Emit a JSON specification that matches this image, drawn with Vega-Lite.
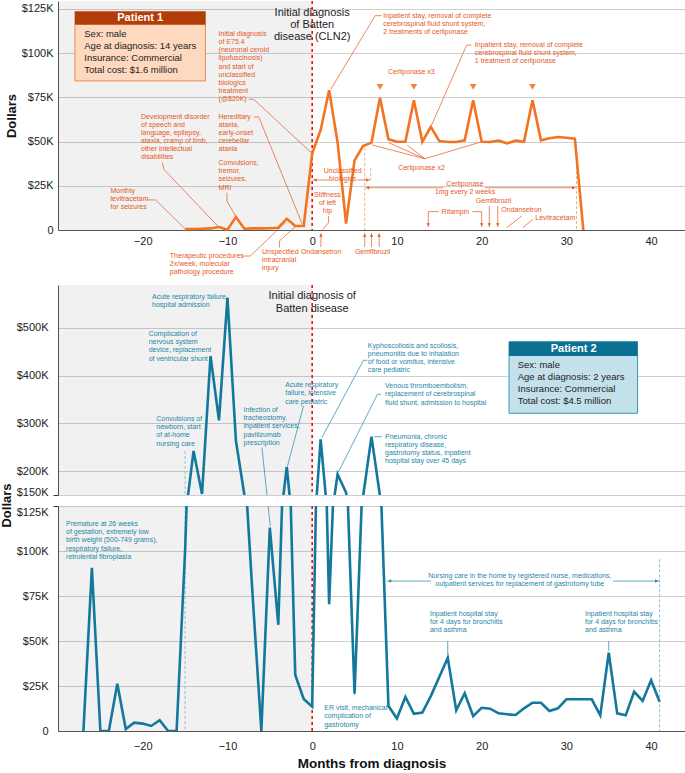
{
"$schema": "https://vega.github.io/schema/vega-lite/v6.json",
"padding": {"left": 0, "top": 0, "right": 0, "bottom": 0},
"background": "white",
"bounds": "flush",
"spacing": 11,
"resolve": {"scale": {"y": "independent", "x": "independent"}},
"config": {
  "view": {"stroke": null},
  "font": "Liberation Sans",
  "axis": {"labelFont": "Liberation Sans", "labelFontSize": 11, "labelColor": "#222", "domainColor": "#555", "domainWidth": 1, "ticks": false, "gridColor": "#cfcfcf", "gridWidth": 1, "titleFont": "Liberation Sans", "titleFontSize": 13, "titleFontWeight": "bold", "titleColor": "#111"},
  "axisX": {"grid": false},
  "axisY": {"grid": true, "labelPadding": 5, "titlePadding": 3}
},
"datasets": {
  "p1": [
    {"month": -15, "cost": 500}, {"month": -14, "cost": 600}, {"month": -13, "cost": 700}, {"month": -12, "cost": 900}, {"month": -11, "cost": 1700}, {"month": -10, "cost": 200}, {"month": -9, "cost": 7300}, {"month": -8, "cost": 700}, {"month": -7, "cost": 900}, {"month": -6, "cost": 900}, {"month": -5, "cost": 1000}, {"month": -4, "cost": 1300}, {"month": -3, "cost": 6400}, {"month": -2, "cost": 2300}, {"month": -1, "cost": 2300}, {"month": 0, "cost": 43200}, {"month": 1, "cost": 56600}, {"month": 2, "cost": 79000}, {"month": 3, "cost": 49400}, {"month": 4, "cost": 3600}, {"month": 5, "cost": 39400}, {"month": 6, "cost": 47500}, {"month": 7, "cost": 49400}, {"month": 8, "cost": 74800}, {"month": 9, "cost": 51300}, {"month": 10, "cost": 49900}, {"month": 11, "cost": 49900}, {"month": 12, "cost": 73400}, {"month": 13, "cost": 49900}, {"month": 14, "cost": 58300}, {"month": 15, "cost": 50300}, {"month": 16, "cost": 49800}, {"month": 17, "cost": 49800}, {"month": 18, "cost": 50700}, {"month": 19, "cost": 73400}, {"month": 20, "cost": 49900}, {"month": 21, "cost": 49800}, {"month": 22, "cost": 50500}, {"month": 23, "cost": 49000}, {"month": 24, "cost": 50500}, {"month": 25, "cost": 49900}, {"month": 26, "cost": 73400}, {"month": 27, "cost": 50700}, {"month": 28, "cost": 51900}, {"month": 29, "cost": 52600}, {"month": 30, "cost": 52200}, {"month": 31, "cost": 51600}, {"month": 32, "cost": 0}
  ],
  "p2": [
    {"month": -27, "cost": 0}, {"month": -26, "cost": 90700}, {"month": -25, "cost": 0}, {"month": -24, "cost": 0}, {"month": -23, "cost": 26300}, {"month": -22, "cost": 1100}, {"month": -21, "cost": 4600}, {"month": -20, "cost": 4100}, {"month": -19, "cost": 2800}, {"month": -18, "cost": 6000}, {"month": -17, "cost": 0}, {"month": -16, "cost": 0}, {"month": -15, "cost": 100000}, {"month": -14, "cost": 242200}, {"month": -13, "cost": 152000}, {"month": -12, "cost": 441200}, {"month": -11, "cost": 306500}, {"month": -10, "cost": 563400}, {"month": -9, "cost": 263200}, {"month": -8, "cost": 150000}, {"month": -7, "cost": 73000}, {"month": -6, "cost": 0}, {"month": -5, "cost": 113000}, {"month": -4, "cost": 59000}, {"month": -3, "cost": 208700}, {"month": -2, "cost": 31100}, {"month": -1, "cost": 17800}, {"month": 0, "cost": 13500}, {"month": 1, "cost": 266700}, {"month": 2, "cost": 70400}, {"month": 3, "cost": 193400}, {"month": 4, "cost": 155000}, {"month": 5, "cost": 20700}, {"month": 6, "cost": 146000}, {"month": 7, "cost": 272200}, {"month": 8, "cost": 148000}, {"month": 9, "cost": 13900}, {"month": 10, "cost": 7000}, {"month": 11, "cost": 18900}, {"month": 12, "cost": 9600}, {"month": 13, "cost": 10200}, {"month": 14, "cost": 19400}, {"month": 15, "cost": 30000}, {"month": 16, "cost": 40700}, {"month": 17, "cost": 11500}, {"month": 18, "cost": 21000}, {"month": 19, "cost": 8300}, {"month": 20, "cost": 12900}, {"month": 21, "cost": 12400}, {"month": 22, "cost": 9800}, {"month": 23, "cost": 9300}, {"month": 24, "cost": 8900}, {"month": 25, "cost": 12600}, {"month": 26, "cost": 15700}, {"month": 27, "cost": 15700}, {"month": 28, "cost": 11100}, {"month": 29, "cost": 12600}, {"month": 30, "cost": 17600}, {"month": 31, "cost": 17600}, {"month": 32, "cost": 17600}, {"month": 33, "cost": 17600}, {"month": 34, "cost": 8700}, {"month": 35, "cost": 43500}, {"month": 36, "cost": 9800}, {"month": 37, "cost": 8700}, {"month": 38, "cost": 21800}, {"month": 39, "cost": 16700}, {"month": 40, "cost": 28200}, {"month": 41, "cost": 16300}
  ],
  "shade1": [{"month": -30, "month2": 0, "cost": 129500, "cost2": 0}],
  "shade2": [{"month": -30, "month2": 0, "cost": 590000, "cost2": 150000}],
  "shade3": [{"month": -30, "month2": 0, "cost": 125000, "cost2": 0}],
  "diag1": [{"month": 0, "cost": 129500, "cost2": 0}],
  "diag2": [{"month": 0, "cost": 590000, "cost2": 150000}],
  "diag3": [{"month": 0, "cost": 125000, "cost2": 0}],
  "title1": [{"month": 0, "cost": 126000, "label": ["Initial diagnosis", "of Batten", "disease (CLN2)"]}],
  "title2": [{"month": 0, "cost": 579100, "label": ["Initial diagnosis of", "Batten disease"]}],
  "box1": [{"month": -28.0, "month2": -12.6, "cost": 123500, "cost2": 84300}],
  "box1h": [{"month": -28.0, "month2": -12.6, "cost": 123500, "cost2": 116000}],
  "box1t": [{"month": -20.3, "cost": 119700, "label": "Patient 1"}],
  "box1b": [{"month": -26.9, "cost": 113900, "label": ["Sex: male", "Age at diagnosis: 14 years", "Insurance: Commercial", "Total cost: $1.6 million"]}],
  "box2": [{"month": 23.23, "month2": 38.4, "cost": 471200, "cost2": 321200}],
  "box2h": [{"month": 23.23, "month2": 38.4, "cost": 471200, "cost2": 441200}],
  "box2t": [{"month": 30.86, "cost": 455800, "label": "Patient 2"}],
  "box2b": [{"month": 24.26, "cost": 432200, "label": ["Sex: male", "Age at diagnosis: 2 years", "Insurance: Commercial", "Total cost: $4.5 million"]}],
  "ann1L": [
    {"month": -23.8, "cost": 24300, "label": ["Monthly", "levitracetam", "for seizures"]},
    {"month": -20.2, "cost": 66200, "label": ["Development disorder", "of speech and", "language, epilepsy,", "ataxia, cramp of limb,", "other intellectual", "disabilities"]},
    {"month": -11.05, "cost": 113000, "label": ["Initial diagnosis", "of E75.4", "(neuronal ceroid", "lipofuscinosis)", "and start of", "unclassified", "biologics", "treatment", "(@$20K)"]},
    {"month": -11.05, "cost": 66200, "label": ["Hereditary", "ataxia,", "early-onset", "cerebellar", "ataxia"]},
    {"month": -11.05, "cost": 40000, "label": ["Convulsions,", "tremor,", "seizures,", "MRI"]},
    {"month": -16.8, "cost": -12400, "label": ["Therapeutic procedures", "2x/week, molecular", "pathology procedure"]},
    {"month": -5.93, "cost": -10200, "label": ["Unspecified", "intracranial", "injury"]},
    {"month": -1.33, "cost": -10200, "label": ["Ondansetron"]},
    {"month": 5.04, "cost": -10200, "label": ["Gemfibrozil"]},
    {"month": 8.4, "cost": 123500, "label": ["Inpatient stay, removal of complete", "cerebrospinal fluid shunt system,", "2 treatments of cerliponase"]},
    {"month": 19.2, "cost": 106900, "label": ["Inpatient stay, removal of complete", "cerebrospinal fluid shunt system,", "1 treatment of cerliponase"]}
  ],
  "ann1C": [
    {"month": 1.8, "cost": 22100, "label": ["Stiffness", "of left", "hip"]},
    {"month": 3.6, "cost": 35600, "label": ["Unclassified", "biologics"]},
    {"month": 18.04, "cost": 28500, "label": ["Cerliponase", "1mg every 2 weeks"]},
    {"month": 11.7, "cost": 91600, "label": ["Cerliponase x3"]},
    {"month": 12.9, "cost": 37500, "label": ["Cerliponase x2"]},
    {"month": 16.9, "cost": 12600, "label": ["Rifampin"]},
    {"month": 21.4, "cost": 18700, "label": ["Gemfibrozil"]},
    {"month": 24.7, "cost": 13600, "label": ["Ondansetron"]},
    {"month": 28.7, "cost": 9200, "label": ["Levitracetam"]}
  ],
  "rules1": [
    {"month": -19.5, "cost": 17000, "month2": -18.5, "cost2": 17000},
    {"month": -18.5, "cost": 17000, "month2": -15, "cost2": 700},
    {"month": -17.7, "cost": 38100, "month2": -17.5, "cost2": 34300},
    {"month": -17.5, "cost": 34300, "month2": -11.05, "cost2": 1700},
    {"month": -7.5, "cost": 73900, "month2": -6.9, "cost2": 73900},
    {"month": -6.9, "cost": 73900, "month2": 0, "cost2": 43200},
    {"month": -6.9, "cost": 63900, "month2": -6.3, "cost2": 63900},
    {"month": -6.3, "cost": 63900, "month2": -1.2, "cost2": 3600},
    {"month": -10.06, "cost": 21100, "month2": -10.06, "cost2": 16400},
    {"month": -10.06, "cost": 16400, "month2": -9, "cost2": 7400},
    {"month": -8.2, "cost": -14700, "month2": -7.3, "cost2": -14700},
    {"month": -7.3, "cost": -14700, "month2": -3.2, "cost2": 4100},
    {"month": -3.86, "cost": -10000, "month2": -3.86, "cost2": -6200},
    {"month": -3.86, "cost": -6200, "month2": -1.8, "cost2": 2800},
    {"month": 1.03, "cost": -9600, "month2": 1.03, "cost2": -1700},
    {"month": 6.2, "cost": -9600, "month2": 6.2, "cost2": -1700},
    {"month": 7.0, "cost": -9600, "month2": 7.0, "cost2": -1700},
    {"month": 7.9, "cost": -9600, "month2": 7.9, "cost2": -1700},
    {"month": 1.93, "cost": 7900, "month2": 1.93, "cost2": 4100},
    {"month": 1.93, "cost": 4100, "month2": 1.26, "cost2": 400},
    {"month": 0.1, "cost": 28300, "month2": 2.0, "cost2": 28300},
    {"month": 5.3, "cost": 28300, "month2": 6.8, "cost2": 28300},
    {"month": 6.3, "cost": 23900, "month2": 15.5, "cost2": 23900},
    {"month": 20.4, "cost": 23900, "month2": 31.1, "cost2": 23900},
    {"month": 13.3, "cost": 40300, "month2": 7.04, "cost2": 48100},
    {"month": 13.3, "cost": 40300, "month2": 9.0, "cost2": 49400},
    {"month": 13.3, "cost": 40300, "month2": 11.2, "cost2": 48100},
    {"month": 13.3, "cost": 40300, "month2": 20.0, "cost2": 49900},
    {"month": 7.43, "cost": 121200, "month2": 8.2, "cost2": 121200},
    {"month": 7.43, "cost": 121200, "month2": 2.2, "cost2": 79600},
    {"month": 18.24, "cost": 104600, "month2": 18.8, "cost2": 104600},
    {"month": 18.24, "cost": 104600, "month2": 14.1, "cost2": 59400},
    {"month": 13.7, "cost": 10400, "month2": 14.9, "cost2": 10400},
    {"month": 18.9, "cost": 10400, "month2": 20.0, "cost2": 10400},
    {"month": 13.7, "cost": 10400, "month2": 13.7, "cost2": 1700},
    {"month": 20.0, "cost": 10400, "month2": 20.0, "cost2": 1700},
    {"month": 20.9, "cost": 13600, "month2": 20.9, "cost2": 1700},
    {"month": 21.9, "cost": 13600, "month2": 21.9, "cost2": 1700},
    {"month": 24.73, "cost": 7900, "month2": 22.96, "cost2": 1300},
    {"month": 26.1, "cost": 6100, "month2": 24.85, "cost2": 1300}
  ],
  "dash1": [
    {"month": 6.9, "cost": 35200, "month2": 6.9, "cost2": 27700},
    {"month": 6.2, "cost": 46500, "month2": 6.2, "cost2": 0},
    {"month": 31.2, "cost": 39000, "month2": 31.2, "cost2": 0}
  ],
  "down1": [{"month": 13.7, "cost": 2900}, {"month": 20.0, "cost": 2900}, {"month": 20.9, "cost": 2900}, {"month": 21.9, "cost": 2900}],
  "up1": [{"month": 1.03, "cost": -2900}, {"month": 6.2, "cost": -2900}, {"month": 7.0, "cost": -2900}, {"month": 7.9, "cost": -2900}],
  "left1": [{"month": 0.35, "cost": 28300}, {"month": 6.55, "cost": 23900}],
  "right1": [{"month": 6.55, "cost": 28300}, {"month": 30.85, "cost": 23900}],
  "tri1": [{"month": 8, "cost": 80900}, {"month": 12, "cost": 80900}, {"month": 19, "cost": 80900}, {"month": 26, "cost": 80900}],
  "ann2L": [
    {"month": -18.9, "cost": 573200, "label": ["Acute respiratory failure,", "hospital admission"]},
    {"month": -19.3, "cost": 495100, "label": ["Complication of", "nervous system", "device, replacement", "of ventricular shunt"]},
    {"month": -18.4, "cost": 317000, "label": ["Convulsions of", "newborn, start", "of at-home", "nursing care"]},
    {"month": -8.1, "cost": 335900, "label": ["Infection of", "tracheostomy,", "inpatient services,", "pavilizumab", "prescription"]},
    {"month": -3.18, "cost": 388200, "label": ["Acute respiratory", "failure, intensive", "care pediatric"]},
    {"month": 6.57, "cost": 470600, "label": ["Kyphoscoliosis and scoliosis,", "pneumonitis due to inhalation", "of food or vomitus, intensive", "care pediatric"]},
    {"month": 8.6, "cost": 386100, "label": ["Venous thromboembolism,", "replacement of cerebrospinal", "fluid shunt, admission to hospital"]},
    {"month": 8.6, "cost": 280000, "label": ["Pneumonia, chronic", "respiratory disease,", "gastrotomy status, inpatient", "hospital stay over 45 days"]}
  ],
  "rules2": [
    {"month": -5.93, "cost": 249100, "month2": -4.95, "cost2": 85100},
    {"month": -1.03, "cost": 336500, "month2": -2.91, "cost2": 210800},
    {"month": 6.05, "cost": 432200, "month2": 6.5, "cost2": 432200},
    {"month": 6.05, "cost": 432200, "month2": 1.14, "cost2": 270000},
    {"month": 7.7, "cost": 361000, "month2": 8.14, "cost2": 361000},
    {"month": 7.7, "cost": 361000, "month2": 3.1, "cost2": 198200},
    {"month": 7.31, "cost": 272200, "month2": 8.22, "cost2": 272200}
  ],
  "dash2": [{"month": -15, "cost": 242200, "month2": -15, "cost2": 150000}],
  "ann3L": [
    {"month": -29.05, "cost": 117100, "label": ["Premature at 26 weeks", "of gestation, extremely low", "birth weight (500-749 grams),", "respiratory failure,", "retrolental fibroplasia"]},
    {"month": 1.42, "cost": 14800, "label": ["ER visit, mechanical", "complication of", "gastrotomy"]},
    {"month": 13.9, "cost": 67100, "label": ["Inpatient hospital stay", "for 4 days for bronchitis", "and asthma"]},
    {"month": 32.2, "cost": 67100, "label": ["Inpatient hospital stay", "for 4 days for bronchitis", "and asthma"]}
  ],
  "ann3C": [{"month": 24.5, "cost": 88300, "label": ["Nursing care in the home by registered nurse, medications,", "outpatient services for replacement of gastrotomy tube"]}],
  "rules3": [
    {"month": -5.93, "cost": 157400, "month2": -4.95, "cost2": 113900},
    {"month": 8.8, "cost": 83300, "month2": 14.0, "cost2": 83300},
    {"month": 35.5, "cost": 83300, "month2": 41, "cost2": 83300},
    {"month": 16, "cost": 50000, "month2": 16, "cost2": 42200},
    {"month": 35, "cost": 50000, "month2": 35, "cost2": 44400}
  ],
  "light3": [{"month": 5, "cost": 24100, "month2": 5, "cost2": 19800}],
  "dash3": [{"month": -15, "cost": 200000, "month2": -15, "cost2": 0}, {"month": 41, "cost": 95400, "month2": 41, "cost2": 0}],
  "left3": [{"month": 9.15, "cost": 83300}],
  "right3": [{"month": 40.65, "cost": 83300}]
},
"vconcat": [
  {
    "width": 627, "height": 229,
    "encoding": {
      "x": {"field": "month", "type": "quantitative", "scale": {"domain": [-30, 44], "nice": false, "zero": false}, "axis": {"values": [-20, -10, 0, 10, 20, 30, 40], "title": null, "labelPadding": 5}},
      "y": {"field": "cost", "type": "quantitative", "scale": {"domain": [0, 129500], "nice": false}, "axis": {"values": [0, 25000, 50000, 75000, 100000, 125000], "labelExpr": "datum.value == 0 ? '0' : '$' + format(datum.value / 1000, 'd') + 'K'", "title": "Dollars"}}
    },
    "layer": [
      {"data": {"name": "shade1"}, "mark": {"type": "rect", "fill": "#000", "opacity": 0.055}, "encoding": {"x2": {"field": "month2"}, "y2": {"field": "cost2"}}},
      {"data": {"name": "diag1"}, "mark": {"type": "rule", "color": "#ee1111", "strokeWidth": 1.6, "strokeDash": [3, 3]}, "encoding": {"y2": {"field": "cost2"}}},
      {"data": {"name": "dash1"}, "mark": {"type": "rule", "color": "#f4a577", "strokeWidth": 0.9, "strokeDash": [3, 2]}, "encoding": {"x2": {"field": "month2"}, "y2": {"field": "cost2"}}},
      {"data": {"name": "rules1"}, "mark": {"type": "rule", "color": "#e4581c", "strokeWidth": 0.7}, "encoding": {"x2": {"field": "month2"}, "y2": {"field": "cost2"}}},
      {"data": {"name": "p1"}, "mark": {"type": "line", "color": "#f47321", "strokeWidth": 2.6}},
      {"data": {"name": "tri1"}, "mark": {"type": "point", "shape": "triangle-down", "filled": true, "size": 45, "color": "#f08540", "opacity": 1}},
      {"data": {"name": "down1"}, "mark": {"type": "point", "shape": "triangle-down", "filled": true, "size": 12, "color": "#e4581c", "opacity": 1}},
      {"data": {"name": "up1"}, "mark": {"type": "point", "shape": "triangle-up", "filled": true, "size": 12, "color": "#e4581c", "opacity": 1}},
      {"data": {"name": "left1"}, "mark": {"type": "point", "shape": "triangle-left", "filled": true, "size": 12, "color": "#e4581c", "opacity": 1}},
      {"data": {"name": "right1"}, "mark": {"type": "point", "shape": "triangle-right", "filled": true, "size": 12, "color": "#e4581c", "opacity": 1}},
      {"data": {"name": "box1"}, "mark": {"type": "rect", "fill": "#fed9c0", "stroke": "#f08a4c", "strokeWidth": 1}, "encoding": {"x2": {"field": "month2"}, "y2": {"field": "cost2"}}},
      {"data": {"name": "box1h"}, "mark": {"type": "rect", "fill": "#b33d08"}, "encoding": {"x2": {"field": "month2"}, "y2": {"field": "cost2"}}},
      {"data": {"name": "box1t"}, "mark": {"type": "text", "align": "center", "baseline": "middle", "fontSize": 11, "fontWeight": "bold", "color": "white", "font": "Liberation Sans"}, "encoding": {"text": {"field": "label"}}},
      {"data": {"name": "box1b"}, "mark": {"type": "text", "align": "left", "baseline": "top", "fontSize": 9.5, "lineHeight": 12, "color": "#222", "font": "Liberation Sans"}, "encoding": {"text": {"field": "label"}}},
      {"data": {"name": "title1"}, "mark": {"type": "text", "align": "center", "baseline": "top", "fontSize": 11, "lineHeight": 12, "color": "#222", "font": "Liberation Sans"}, "encoding": {"text": {"field": "label"}}},
      {"data": {"name": "ann1L"}, "mark": {"type": "text", "align": "left", "baseline": "top", "fontSize": 7, "lineHeight": 8.1, "color": "#e4581c", "font": "Liberation Sans"}, "encoding": {"text": {"field": "label"}}},
      {"data": {"name": "ann1C"}, "mark": {"type": "text", "align": "center", "baseline": "top", "fontSize": 7, "lineHeight": 8.1, "color": "#e4581c", "font": "Liberation Sans"}, "encoding": {"text": {"field": "label"}}}
    ]
  },
  {"width": 627, "height": 33, "data": {"values": []}, "mark": "point"},
  {
    "width": 627, "height": 210,
    "encoding": {
      "x": {"field": "month", "type": "quantitative", "scale": {"domain": [-30, 44], "nice": false, "zero": false}, "axis": null},
      "y": {"field": "cost", "type": "quantitative", "scale": {"domain": [150000, 590000], "nice": false, "zero": false}, "axis": {"values": [150000, 200000, 300000, 400000, 500000], "labelExpr": "'$' + format(datum.value / 1000, 'd') + 'K'", "title": null, "labelBaseline": {"condition": {"test": "datum.value == 150000", "value": "alphabetic"}, "value": "middle"}, "ticks": true, "tickSize": 5, "tickColor": "#333", "tickOpacity": {"condition": {"test": "datum.value == 150000", "value": 1}, "value": 0}}}
    },
    "layer": [
      {"data": {"name": "shade2"}, "mark": {"type": "rect", "fill": "#000", "opacity": 0.055}, "encoding": {"x2": {"field": "month2"}, "y2": {"field": "cost2"}}},
      {"data": {"name": "diag2"}, "mark": {"type": "rule", "color": "#ee1111", "strokeWidth": 1.6, "strokeDash": [3, 3]}, "encoding": {"y2": {"field": "cost2"}}},
      {"data": {"name": "dash2"}, "mark": {"type": "rule", "color": "#8ec0d2", "strokeWidth": 1, "strokeDash": [3, 2], "clip": true}, "encoding": {"x2": {"field": "month2"}, "y2": {"field": "cost2"}}},
      {"data": {"name": "rules2"}, "mark": {"type": "rule", "color": "#1d86a6", "strokeWidth": 0.7, "clip": true}, "encoding": {"x2": {"field": "month2"}, "y2": {"field": "cost2"}}},
      {"data": {"name": "p2"}, "mark": {"type": "line", "color": "#13789b", "strokeWidth": 2.6, "clip": true}},
      {"data": {"name": "box2"}, "mark": {"type": "rect", "fill": "#c2e1ea", "stroke": "#3a9ab5", "strokeWidth": 1}, "encoding": {"x2": {"field": "month2"}, "y2": {"field": "cost2"}}},
      {"data": {"name": "box2h"}, "mark": {"type": "rect", "fill": "#0b7091"}, "encoding": {"x2": {"field": "month2"}, "y2": {"field": "cost2"}}},
      {"data": {"name": "box2t"}, "mark": {"type": "text", "align": "center", "baseline": "middle", "fontSize": 11, "fontWeight": "bold", "color": "white", "font": "Liberation Sans"}, "encoding": {"text": {"field": "label"}}},
      {"data": {"name": "box2b"}, "mark": {"type": "text", "align": "left", "baseline": "top", "fontSize": 9.5, "lineHeight": 12, "color": "#222", "font": "Liberation Sans"}, "encoding": {"text": {"field": "label"}}},
      {"data": {"name": "title2"}, "mark": {"type": "text", "align": "center", "baseline": "top", "fontSize": 11, "lineHeight": 12.5, "color": "#222", "font": "Liberation Sans"}, "encoding": {"text": {"field": "label"}}},
      {"data": {"name": "ann2L"}, "mark": {"type": "text", "align": "left", "baseline": "top", "fontSize": 7, "lineHeight": 8.1, "color": "#1d86a6", "font": "Liberation Sans"}, "encoding": {"text": {"field": "label"}}}
    ]
  },
  {
    "width": 627, "height": 225,
    "encoding": {
      "x": {"field": "month", "type": "quantitative", "scale": {"domain": [-30, 44], "nice": false, "zero": false}, "axis": {"values": [-20, -10, 0, 10, 20, 30, 40], "title": "Months from diagnosis", "labelPadding": 9, "titlePadding": 5, "titleFontSize": 13.5}},
      "y": {"field": "cost", "type": "quantitative", "scale": {"domain": [0, 125000], "nice": false}, "axis": {"values": [0, 25000, 50000, 75000, 100000, 125000], "labelExpr": "datum.value == 0 ? '0' : '$' + format(datum.value / 1000, 'd') + 'K'", "title": "Dollars", "titleY": -1, "labelBaseline": {"condition": {"test": "datum.value == 125000", "value": "top"}, "value": "middle"}, "ticks": true, "tickSize": 5, "tickColor": "#333", "tickOpacity": {"condition": {"test": "datum.value == 125000", "value": 1}, "value": 0}}}
    },
    "layer": [
      {"data": {"name": "shade3"}, "mark": {"type": "rect", "fill": "#000", "opacity": 0.055}, "encoding": {"x2": {"field": "month2"}, "y2": {"field": "cost2"}}},
      {"data": {"name": "diag3"}, "mark": {"type": "rule", "color": "#ee1111", "strokeWidth": 1.6, "strokeDash": [3, 3]}, "encoding": {"y2": {"field": "cost2"}}},
      {"data": {"name": "dash3"}, "mark": {"type": "rule", "color": "#8ec0d2", "strokeWidth": 1, "strokeDash": [3, 2], "clip": true}, "encoding": {"x2": {"field": "month2"}, "y2": {"field": "cost2"}}},
      {"data": {"name": "light3"}, "mark": {"type": "rule", "color": "#9cc8d6", "strokeWidth": 1}, "encoding": {"x2": {"field": "month2"}, "y2": {"field": "cost2"}}},
      {"data": {"name": "rules3"}, "mark": {"type": "rule", "color": "#1d86a6", "strokeWidth": 0.7, "clip": true}, "encoding": {"x2": {"field": "month2"}, "y2": {"field": "cost2"}}},
      {"data": {"name": "p2"}, "mark": {"type": "line", "color": "#13789b", "strokeWidth": 2.6, "clip": true}},
      {"data": {"name": "left3"}, "mark": {"type": "point", "shape": "triangle-left", "filled": true, "size": 12, "color": "#1d86a6", "opacity": 1}},
      {"data": {"name": "right3"}, "mark": {"type": "point", "shape": "triangle-right", "filled": true, "size": 12, "color": "#1d86a6", "opacity": 1}},
      {"data": {"name": "ann3L"}, "mark": {"type": "text", "align": "left", "baseline": "top", "fontSize": 7, "lineHeight": 8.1, "color": "#1d86a6", "font": "Liberation Sans"}, "encoding": {"text": {"field": "label"}}},
      {"data": {"name": "ann3C"}, "mark": {"type": "text", "align": "center", "baseline": "top", "fontSize": 7, "lineHeight": 8.1, "color": "#1d86a6", "font": "Liberation Sans"}, "encoding": {"text": {"field": "label"}}}
    ]
  }
]
}
